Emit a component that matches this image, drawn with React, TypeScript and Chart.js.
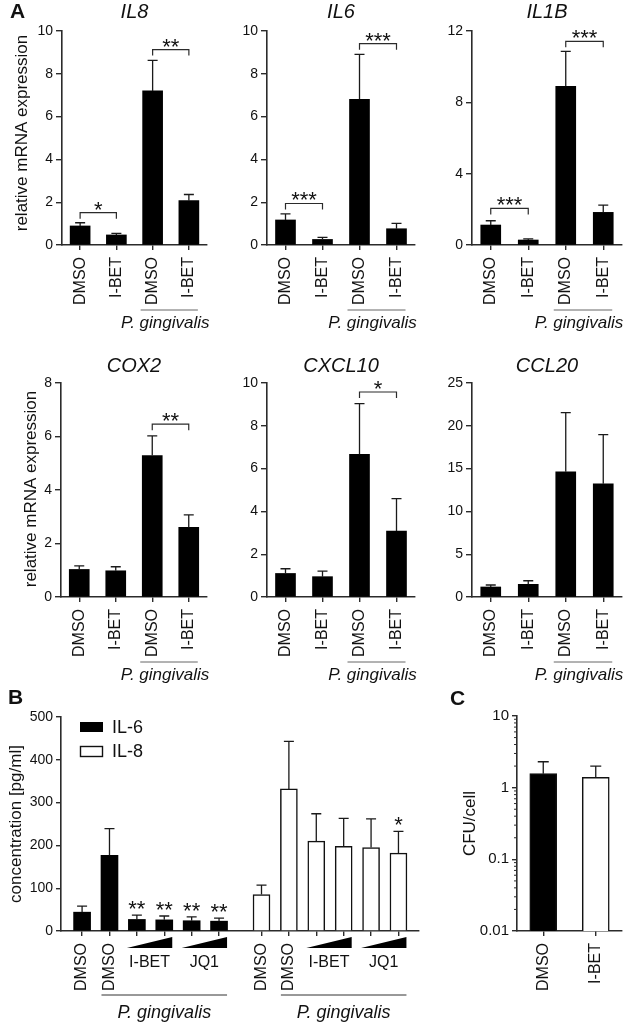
import React, { useEffect, useRef } from "react";
import { Chart, registerables } from "chart.js";

Chart.register(...registerables);

const FAMILY = "'Liberation Sans', Arial, Helvetica, sans-serif";
const INK = "#111111";
const AXIS = "#2b2b2b";
Chart.defaults.font.family = FAMILY;

// ---------------- Panel A data ----------------
const aLabels = ["DMSO", "I-BET", "DMSO", "I-BET"];
const aInfected = [false, false, true, true];
const infectionLabel = "P. gingivalis";
const aYTitle = "relative mRNA expression";

const il8Mean = [0.89, 0.47, 7.2, 2.07];
const il8Err = [0.15, 0.07, 1.43, 0.29];
const il8Ticks = [0, 2, 4, 6, 8, 10];
const il8SigPairs = [[0, 1], [2, 3]];
const il8SigLevels = [1.51, 9.13];
const il8SigMarks = ["*", "**"];

const il6Mean = [1.17, 0.26, 6.81, 0.76];
const il6Err = [0.28, 0.1, 2.1, 0.25];
const il6Ticks = [0, 2, 4, 6, 8, 10];
const il6SigPairs = [[0, 1], [2, 3]];
const il6SigLevels = [1.94, 9.41];
const il6SigMarks = ["***", "***"];

const il1bMean = [1.12, 0.28, 8.9, 1.83];
const il1bErr = [0.24, 0.06, 1.96, 0.41];
const il1bTicks = [0, 4, 8, 12];
const il1bSigPairs = [[0, 1], [2, 3]];
const il1bSigLevels = [2.05, 11.42];
const il1bSigMarks = ["***", "***"];

const cox2Mean = [1.03, 0.98, 5.29, 2.6];
const cox2Err = [0.13, 0.15, 0.73, 0.47];
const cox2Ticks = [0, 2, 4, 6, 8];
const cox2SigPairs = [[2, 3]];
const cox2SigLevels = [6.46];
const cox2SigMarks = ["**"];

const cxcl10Mean = [1.1, 0.95, 6.67, 3.08];
const cxcl10Err = [0.22, 0.26, 2.37, 1.52];
const cxcl10Ticks = [0, 2, 4, 6, 8, 10];
const cxcl10SigPairs = [[2, 3]];
const cxcl10SigLevels = [9.58];
const cxcl10SigMarks = ["*"];

const ccl20Mean = [1.17, 1.48, 14.62, 13.22];
const ccl20Err = [0.23, 0.42, 6.92, 5.75];
const ccl20Ticks = [0, 5, 10, 15, 20, 25];
const ccl20SigPairs: number[][] = [];
const ccl20SigLevels: number[] = [];
const ccl20SigMarks: string[] = [];

// ---------------- Panel B data ----------------
const bSeries = ["IL-6", "IL-8"];
const bTreatments = ["DMSO", "DMSO", "I-BET", "I-BET", "JQ1", "JQ1"];
const bInfected = [false, true, true, true, true, true];
const il6ConcMean = [44, 177, 27, 26, 24, 23];
const il6ConcErr = [14, 62, 10, 9, 9, 7];
const il6ConcMarks = ["", "", "**", "**", "**", "**"];
const il8ConcMean = [85, 332, 210, 198, 195, 182];
const il8ConcErr = [22, 111, 64, 65, 67, 51];
const il8ConcMarks = ["", "", "", "", "", "*"];
const bTicks = [0, 100, 200, 300, 400, 500];
const bYTitle = "concentration [pg/ml]";

// ---------------- Panel C data ----------------
const cLabels = ["DMSO", "I-BET"];
const cfuMean = [1.57, 1.39];
const cfuErr = [0.73, 0.61];
const cTicks = [0.01, 0.1, 1, 10];
const cYTitle = "CFU/cell";

// ---------------- layout ----------------
type Box = { left: number; top: number; width: number; height: number };
type Area = { left: number; top: number; right: number; bottom: number };
const X_BOX_H = 20;

function frameOptions(box: Box, area: Area) {
  return {
    padding: {
      left: 0,
      top: area.top - box.top,
      right: box.left + box.width - area.right,
      bottom: box.top + box.height - area.bottom - X_BOX_H,
    },
    yWidth: area.left - box.left,
  };
}

function text(ctx: CanvasRenderingContext2D, str: string, x: number, y: number, size: number, opts: any = {}) {
  ctx.save();
  ctx.fillStyle = opts.color || INK;
  ctx.font = `${opts.style ? opts.style + " " : ""}${size}px ${FAMILY}`;
  ctx.textAlign = opts.align || "center";
  ctx.textBaseline = opts.baseline || "middle";
  ctx.translate(x, y);
  if (opts.rotate) ctx.rotate(-Math.PI / 2);
  ctx.fillText(str, 0, 0);
  ctx.restore();
}

function hline(ctx: CanvasRenderingContext2D, x1: number, x2: number, y: number, color: string, w: number) {
  ctx.save();
  ctx.strokeStyle = color;
  ctx.lineWidth = w;
  ctx.beginPath();
  ctx.moveTo(x1, y);
  ctx.lineTo(x2, y);
  ctx.stroke();
  ctx.restore();
}

function errorBars(ctx: CanvasRenderingContext2D, xs: any, ys: any, xPos: number[], mean: number[], err: number[], cap: number) {
  ctx.save();
  ctx.strokeStyle = "#1a1a1a";
  ctx.lineWidth = 1.3;
  for (let i = 0; i < mean.length; i++) {
    const x = xs.getPixelForValue(xPos[i]);
    const y0 = ys.getPixelForValue(mean[i]);
    const y1 = ys.getPixelForValue(mean[i] + err[i]);
    ctx.beginPath();
    ctx.moveTo(x, y0);
    ctx.lineTo(x, y1);
    ctx.moveTo(x - cap / 2, y1);
    ctx.lineTo(x + cap / 2, y1);
    ctx.stroke();
  }
  ctx.restore();
}

const gridStyle = (tickLength: number) => ({
  display: true,
  drawOnChartArea: false,
  drawTicks: true,
  tickLength,
  color: AXIS,
  lineWidth: 1.4,
  offset: false,
});
const borderStyle = { display: true, color: AXIS, width: 1.6 };

const genePanels = [
  { title: "IL8", mean: il8Mean, err: il8Err, ticks: il8Ticks, sigPairs: il8SigPairs, sigLevels: il8SigLevels, sigMarks: il8SigMarks },
  { title: "IL6", mean: il6Mean, err: il6Err, ticks: il6Ticks, sigPairs: il6SigPairs, sigLevels: il6SigLevels, sigMarks: il6SigMarks },
  { title: "IL1B", mean: il1bMean, err: il1bErr, ticks: il1bTicks, sigPairs: il1bSigPairs, sigLevels: il1bSigLevels, sigMarks: il1bSigMarks },
  { title: "COX2", mean: cox2Mean, err: cox2Err, ticks: cox2Ticks, sigPairs: cox2SigPairs, sigLevels: cox2SigLevels, sigMarks: cox2SigMarks },
  { title: "CXCL10", mean: cxcl10Mean, err: cxcl10Err, ticks: cxcl10Ticks, sigPairs: cxcl10SigPairs, sigLevels: cxcl10SigLevels, sigMarks: cxcl10SigMarks },
  { title: "CCL20", mean: ccl20Mean, err: ccl20Err, ticks: ccl20Ticks, sigPairs: ccl20SigPairs, sigLevels: ccl20SigLevels, sigMarks: ccl20SigMarks },
];

const geneLayout: any[] = [
  { box: { left: 0, top: 0, width: 215, height: 340 }, area: { left: 62, top: 31, right: 207, bottom: 245 }, titleY: 12, yTitleX: 22, yTitleY: 133, letter: "A" },
  { box: { left: 205, top: 0, width: 220, height: 340 }, area: { left: 267, top: 31, right: 415, bottom: 245 }, titleY: 12 },
  { box: { left: 410, top: 0, width: 214, height: 340 }, area: { left: 472, top: 31, right: 622, bottom: 245 }, titleY: 12 },
  { box: { left: 0, top: 340, width: 215, height: 350 }, area: { left: 61, top: 383, right: 207, bottom: 597 }, titleY: 366, yTitleX: 31, yTitleY: 489 },
  { box: { left: 205, top: 340, width: 220, height: 350 }, area: { left: 267, top: 383, right: 415, bottom: 597 }, titleY: 366 },
  { box: { left: 410, top: 340, width: 214, height: 350 }, area: { left: 472, top: 383, right: 622, bottom: 597 }, titleY: 366 },
];

function makeGeneConfig(g: any, lay: any): any {
  const f = frameOptions(lay.box, lay.area);
  const pos = aLabels.map((_, i) => i);
  const plugin = {
    id: "geneAnnot",
    afterDatasetsDraw(chart: any) {
      errorBars(chart.ctx, chart.scales.x, chart.scales.y, pos, g.mean, g.err, 10);
    },
    afterDraw(chart: any) {
      const ctx = chart.ctx;
      const ca = chart.chartArea;
      const xs = chart.scales.x;
      const ys = chart.scales.y;
      const ox = lay.box.left;
      const oy = lay.box.top;
      text(ctx, g.title, (ca.left + ca.right) / 2, lay.titleY - oy, 20, { style: "italic" });
      if (lay.yTitleX != null) text(ctx, aYTitle, lay.yTitleX - ox, lay.yTitleY - oy, 17, { rotate: true });
      if (lay.letter) text(ctx, lay.letter, 10 - ox, lay.titleY - oy, 21, { style: "bold", align: "left" });
      aLabels.forEach((l, i) => text(ctx, l, xs.getPixelForValue(i), ca.bottom + 12, 16, { rotate: true, align: "right" }));
      g.sigPairs.forEach((p: number[], k: number) => {
        const x1 = xs.getPixelForValue(p[0]);
        const x2 = xs.getPixelForValue(p[1]);
        const y = ys.getPixelForValue(g.sigLevels[k]);
        ctx.save();
        ctx.strokeStyle = AXIS;
        ctx.lineWidth = 1.2;
        ctx.beginPath();
        ctx.moveTo(x1, y + 6);
        ctx.lineTo(x1, y);
        ctx.lineTo(x2, y);
        ctx.lineTo(x2, y + 6);
        ctx.stroke();
        ctx.restore();
        text(ctx, g.sigMarks[k], (x1 + x2) / 2, y + 4, 22, { baseline: "alphabetic" });
      });
      const inf = aInfected.map((v, i) => (v ? i : -1)).filter((i) => i >= 0);
      const xa = xs.getPixelForValue(inf[0]) - 12;
      const xb = xs.getPixelForValue(inf[inf.length - 1]) + 9;
      hline(ctx, xa, xb, ca.bottom + 65, "#666", 1);
      text(ctx, infectionLabel, (xa + xb) / 2 - 4, ca.bottom + 78, 17, { style: "italic" });
    },
  };
  return {
    type: "bar",
    data: {
      labels: aLabels,
      datasets: [{ data: g.mean, backgroundColor: "#000", borderWidth: 0, barThickness: 20 }],
    },
    options: {
      animation: false,
      responsive: false,
      maintainAspectRatio: false,
      layout: { padding: f.padding, autoPadding: false },
      plugins: { legend: { display: false }, tooltip: { enabled: false }, title: { display: false } },
      scales: {
        x: {
          type: "category",
          offset: true,
          grid: gridStyle(5),
          border: borderStyle,
          ticks: { display: false },
          afterFit: (s: any) => { s.height = X_BOX_H; },
        },
        y: {
          type: "linear",
          min: g.ticks[0],
          max: g.ticks[g.ticks.length - 1],
          grid: gridStyle(6),
          border: borderStyle,
          ticks: { color: INK, font: { family: FAMILY, size: 14 }, padding: 3, callback: (v: any) => String(v) },
          afterBuildTicks: (s: any) => { s.ticks = g.ticks.map((v: number) => ({ value: v })); },
          afterFit: (s: any) => { s.width = f.yWidth; },
        },
      },
    },
    plugins: [plugin],
  };
}

// ---------- Panel B ----------
const bBox: Box = { left: 0, top: 690, width: 425, height: 332 };
const bArea: Area = { left: 61, top: 717, right: 419, bottom: 931 };

function makeBConfig(): any {
  const f = frameOptions(bBox, bArea);
  const n = bTreatments.length;
  const posIL6 = bTreatments.map((_, i) => i);
  const posIL8 = bTreatments.map((_, i) => i + n + 0.55);
  const groups = [
    { pos: posIL6, mean: il6ConcMean, err: il6ConcErr, marks: il6ConcMarks },
    { pos: posIL8, mean: il8ConcMean, err: il8ConcErr, marks: il8ConcMarks },
  ];
  const plugin = {
    id: "bAnnot",
    afterDatasetsDraw(chart: any) {
      groups.forEach((g) => errorBars(chart.ctx, chart.scales.x, chart.scales.y, g.pos, g.mean, g.err, 10));
    },
    afterDraw(chart: any) {
      const ctx = chart.ctx;
      const ca = chart.chartArea;
      const xs = chart.scales.x;
      const ys = chart.scales.y;
      const ox = bBox.left;
      const oy = bBox.top;
      text(ctx, "B", 8 - ox, 698 - oy, 21, { style: "bold", align: "left" });
      text(ctx, bYTitle, 16 - ox, (ca.top + ca.bottom) / 2, 17, { rotate: true });
      // legend
      ctx.save();
      ctx.fillStyle = "#000";
      ctx.fillRect(ca.left + 19, ca.top + 5, 23, 10);
      ctx.strokeStyle = "#111";
      ctx.lineWidth = 1.4;
      ctx.strokeRect(ca.left + 19.5, ca.top + 29.5, 22, 10);
      ctx.restore();
      text(ctx, bSeries[0], ca.left + 51, ca.top + 11, 18, { align: "left" });
      text(ctx, bSeries[1], ca.left + 51, ca.top + 35, 18, { align: "left" });
      const axisY = ca.bottom;
      groups.forEach((g) => {
        g.marks.forEach((m, i) => {
          if (!m) return;
          const x = xs.getPixelForValue(g.pos[i]);
          const y = ys.getPixelForValue(g.mean[i] + g.err[i]);
          text(ctx, m, x, y + 1, 22, { baseline: "alphabetic" });
        });
        bTreatments.forEach((t, i) => {
          if (t === "DMSO") text(ctx, t, xs.getPixelForValue(g.pos[i]), axisY + 12, 16, { rotate: true, align: "right" });
        });
        let i = 0;
        while (i < n) {
          if (bTreatments[i] === "DMSO") { i++; continue; }
          let j = i;
          while (j + 1 < n && bTreatments[j + 1] === bTreatments[i]) j++;
          const xl = xs.getPixelForValue(g.pos[i]) - 10;
          const xr = xs.getPixelForValue(g.pos[j]) + 8;
          ctx.save();
          ctx.fillStyle = "#000";
          ctx.beginPath();
          ctx.moveTo(xl, axisY + 17);
          ctx.lineTo(xr, axisY + 17);
          ctx.lineTo(xr, axisY + 6);
          ctx.closePath();
          ctx.fill();
          ctx.restore();
          text(ctx, bTreatments[i], (xl + xr) / 2, axisY + 32, 16);
          i = j + 1;
        }
        const inf = bInfected.map((v, k) => (v ? k : -1)).filter((k) => k >= 0);
        const xa = xs.getPixelForValue(g.pos[inf[0]]) - 8;
        const xb = xs.getPixelForValue(g.pos[inf[inf.length - 1]]) + 8;
        hline(ctx, xa, xb, axisY + 64, "#333", 1);
        text(ctx, infectionLabel, (xa + xb) / 2, axisY + 82, 18, { style: "italic" });
      });
    },
  };
  return {
    type: "bar",
    data: {
      datasets: [
        { label: bSeries[0], data: posIL6.map((x, i) => ({ x, y: il6ConcMean[i] })), backgroundColor: "#000", borderColor: "#000", borderWidth: 0, barThickness: 17, grouped: false },
        { label: bSeries[1], data: posIL8.map((x, i) => ({ x, y: il8ConcMean[i] })), backgroundColor: "#fff", borderColor: "#111", borderWidth: 1.5, barThickness: 17, grouped: false },
      ],
    },
    options: {
      animation: false,
      responsive: false,
      maintainAspectRatio: false,
      layout: { padding: f.padding, autoPadding: false },
      plugins: { legend: { display: false }, tooltip: { enabled: false } },
      scales: {
        x: {
          type: "linear",
          min: -0.77,
          max: 12.3,
          offset: false,
          grid: gridStyle(5),
          border: borderStyle,
          ticks: { display: false },
          afterBuildTicks: (s: any) => { s.ticks = posIL6.concat(posIL8).map((v) => ({ value: v })); },
          afterFit: (s: any) => { s.height = X_BOX_H; },
        },
        y: {
          type: "linear",
          min: bTicks[0],
          max: bTicks[bTicks.length - 1],
          grid: gridStyle(5),
          border: borderStyle,
          ticks: { color: INK, font: { family: FAMILY, size: 14 }, padding: 3, callback: (v: any) => String(v) },
          afterBuildTicks: (s: any) => { s.ticks = bTicks.map((v) => ({ value: v })); },
          afterFit: (s: any) => { s.width = f.yWidth; },
        },
      },
    },
    plugins: [plugin],
  };
}

// ---------- Panel C ----------
const cBox: Box = { left: 430, top: 690, width: 194, height: 332 };
const cArea: Area = { left: 517, top: 716, right: 622, bottom: 931 };

function makeCConfig(): any {
  const f = frameOptions(cBox, cArea);
  const pos = cLabels.map((_, i) => i);
  const plugin = {
    id: "cAnnot",
    afterDatasetsDraw(chart: any) {
      errorBars(chart.ctx, chart.scales.x, chart.scales.y, pos, cfuMean, cfuErr, 11);
    },
    afterDraw(chart: any) {
      const ctx = chart.ctx;
      const ca = chart.chartArea;
      const xs = chart.scales.x;
      const ys = chart.scales.y;
      const ox = cBox.left;
      const oy = cBox.top;
      text(ctx, "C", 450 - ox, 699 - oy, 21, { style: "bold", align: "left" });
      text(ctx, cYTitle, 470 - ox, (ca.top + ca.bottom) / 2, 17, { rotate: true });
      cLabels.forEach((l, i) => text(ctx, l, xs.getPixelForValue(i), ca.bottom + 12, 16, { rotate: true, align: "right" }));
      // minor log ticks
      ctx.save();
      ctx.strokeStyle = AXIS;
      ctx.lineWidth = 1;
      for (let k = 0; k < cTicks.length - 1; k++) {
        for (let m = 2; m <= 9; m++) {
          const y = ys.getPixelForValue(cTicks[k] * m);
          ctx.beginPath();
          ctx.moveTo(ca.left - 3, y);
          ctx.lineTo(ca.left, y);
          ctx.stroke();
        }
      }
      ctx.restore();
    },
  };
  return {
    type: "bar",
    data: {
      labels: cLabels,
      datasets: [{ data: cfuMean, backgroundColor: ["#000", "#fff"], borderColor: "#111", borderWidth: 1.5, barThickness: 27 }],
    },
    options: {
      animation: false,
      responsive: false,
      maintainAspectRatio: false,
      layout: { padding: f.padding, autoPadding: false },
      plugins: { legend: { display: false }, tooltip: { enabled: false } },
      scales: {
        x: {
          type: "category",
          offset: true,
          grid: gridStyle(5),
          border: borderStyle,
          ticks: { display: false },
          afterFit: (s: any) => { s.height = X_BOX_H; },
        },
        y: {
          type: "logarithmic",
          min: cTicks[0],
          max: cTicks[cTicks.length - 1],
          grid: gridStyle(5),
          border: borderStyle,
          ticks: { color: INK, font: { family: FAMILY, size: 15 }, padding: 3, autoSkip: false, callback: (v: any) => String(v) },
          afterBuildTicks: (s: any) => { s.ticks = cTicks.map((v) => ({ value: v })); },
          afterFit: (s: any) => { s.width = f.yWidth; },
        },
      },
    },
    plugins: [plugin],
  };
}

function ChartCanvas({ box, make }: { box: Box; make: () => any }) {
  const ref = useRef<HTMLCanvasElement>(null);
  useEffect(() => {
    const chart = new Chart(ref.current as HTMLCanvasElement, make());
    return () => chart.destroy();
  }, []);
  return (
    <canvas
      ref={ref}
      width={box.width}
      height={box.height}
      style={{ position: "absolute", left: box.left, top: box.top, width: box.width, height: box.height }}
    />
  );
}

export default function App() {
  return (
    <div style={{ position: "absolute", left: 0, top: 0, width: 624, height: 1022, background: "#fff", overflow: "hidden" }}>
      {genePanels.map((g, i) => (
        <ChartCanvas key={g.title} box={geneLayout[i].box} make={() => makeGeneConfig(g, geneLayout[i])} />
      ))}
      <ChartCanvas box={bBox} make={makeBConfig} />
      <ChartCanvas box={cBox} make={makeCConfig} />
    </div>
  );
}
